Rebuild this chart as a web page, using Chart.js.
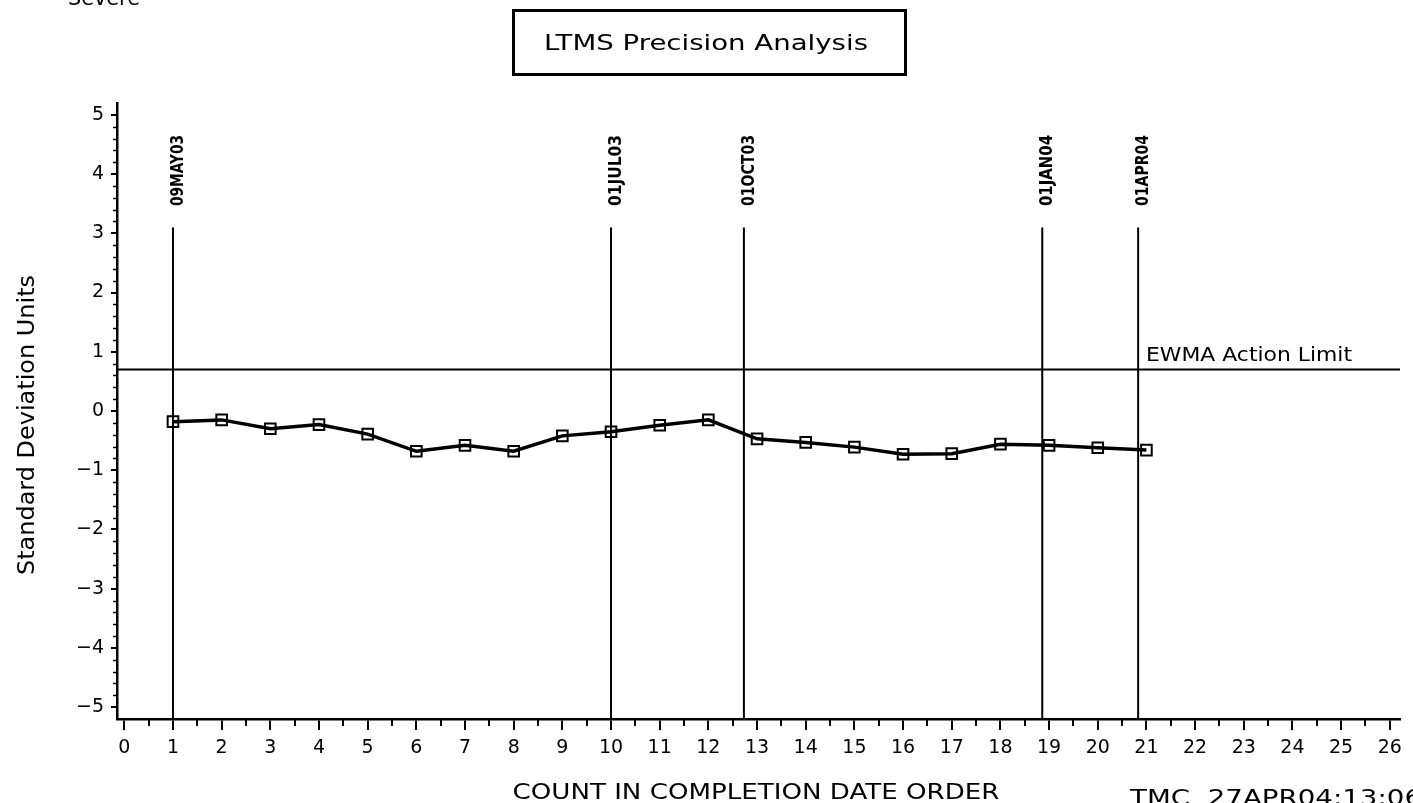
<!DOCTYPE html>
<html><head><meta charset="utf-8">
<script src="https://cdn.jsdelivr.net/npm/chart.js@4.4.1/dist/chart.umd.min.js"></script>
<style>html,body{margin:0;padding:0;background:#fff;} #wrap{width:1413px;height:803px;position:relative;}</style>
</head><body><div id="wrap"><canvas id="c" width="1413" height="803"></canvas></div>
<script>
// ---- data ----
const counts = [1,2,3,4,5,6,7,8,9,10,11,12,13,14,15,16,17,18,19,20,21];
const sdUnits = [-0.18,-0.15,-0.30,-0.23,-0.39,-0.68,-0.58,-0.68,-0.42,-0.35,-0.24,-0.15,-0.47,-0.53,-0.61,-0.73,-0.72,-0.56,-0.58,-0.62,-0.66];
const dateLabels = ['09MAY03','01JUL03','01OCT03','01JAN04','01APR04'];
const datePositions = [1, 10, 12.73, 18.86, 20.83];
const dateLineTop = 3.1;
const actionLimit = 0.7;
const actionLimitLabel = 'EWMA Action Limit';
const xTickValues = [0,1,2,3,4,5,6,7,8,9,10,11,12,13,14,15,16,17,18,19,20,21,22,23,24,25,26];
const yTickValues = [-5,-4,-3,-2,-1,0,1,2,3,4,5];
const xMin = -0.15, xMax = 26.21, yMin = -5.2, yMax = 5.2;
const titleText = 'LTMS Precision Analysis';
const xTitle = 'COUNT IN COMPLETION DATE ORDER';
const yTitle = 'Standard Deviation Units';
const cornerText = 'Severe';
const footText = 'TMC  27APR04:13:06';

const FAM = "'DejaVu Sans', 'Liberation Sans', sans-serif";

function fitText(ctx, text, x, y, w, align) {
  const m = ctx.measureText(text).width;
  const s = w / m;
  ctx.save();
  ctx.translate(x, y);
  ctx.scale(s, 1);
  ctx.textAlign = align;
  ctx.fillText(text, 0, 0);
  ctx.restore();
}

const decor = {
  id: 'decor',
  afterDraw(chart) {
    const ctx = chart.ctx;
    const xs = chart.scales.x, ys = chart.scales.y;
    const left = chart.chartArea.left, bottom = chart.chartArea.bottom;
    ctx.save();
    ctx.strokeStyle = '#000';
    ctx.fillStyle = '#000';
    // minor ticks y
    ctx.lineWidth = 1.5;
    ctx.beginPath();
    for (let k = -26; k <= 26; k++) {
      const v = k / 5;
      if (k % 5 === 0 || Math.abs(v) > 5.15) continue;
      const py = Math.round(ys.getPixelForValue(v)) + 0.5;
      ctx.moveTo(left, py); ctx.lineTo(left - 4, py);
    }
    ctx.stroke();
    // minor ticks x
    ctx.lineWidth = 2;
    ctx.beginPath();
    for (let k = 0; k < 26; k++) {
      const px = Math.round(xs.getPixelForValue(k + 0.5));
      ctx.moveTo(px, bottom); ctx.lineTo(px, bottom + 7);
    }
    ctx.stroke();
    // date labels
    ctx.textBaseline = 'middle';
    ctx.font = "bold 18px " + FAM;
    dateLabels.forEach((t, i) => {
      const px = xs.getPixelForValue(datePositions[i]);
      ctx.save();
      ctx.translate(px + 5, 206);
      ctx.rotate(-Math.PI / 2);
      fitText(ctx, t, 0, 0, 71, 'left');
      ctx.restore();
    });
    // action limit label
    ctx.textBaseline = 'alphabetic';
    ctx.font = "19px " + FAM;
    fitText(ctx, actionLimitLabel, 1146, ys.getPixelForValue(actionLimit) - 9, 206, 'left');
    // title box
    ctx.lineWidth = 3;
    ctx.strokeRect(513.5, 10.5, 392, 64);
    ctx.textBaseline = 'middle';
    ctx.font = "21px " + FAM;
    fitText(ctx, titleText, 706, 45, 324, 'center');
    // y title
    ctx.font = "23px " + FAM;
    ctx.save();
    ctx.translate(28, 425);
    ctx.rotate(-Math.PI / 2);
    fitText(ctx, yTitle, 0, 0, 300, 'center');
    ctx.restore();
    // x title
    ctx.textBaseline = 'alphabetic';
    ctx.font = "21px " + FAM;
    fitText(ctx, xTitle, 756, 799, 487, 'center');
    // footnote
    ctx.font = "21px " + FAM;
    fitText(ctx, footText, 1130, 805, 292, 'left');
    // corner
    ctx.font = "21px " + FAM;
    fitText(ctx, cornerText, 68, 5, 72, 'left');
    ctx.restore();
  }
};

const datasets = [{
  data: counts.map((c, i) => ({x: c, y: sdUnits[i]})),
  borderColor: '#000', borderWidth: 3.5, tension: 0,
  pointStyle: 'rect', pointRadius: 7.5, pointBorderWidth: 2,
  pointBorderColor: '#000', pointBackgroundColor: 'rgba(0,0,0,0)'
}];
datePositions.forEach(p => datasets.push({
  data: [{x: p, y: dateLineTop}, {x: p, y: yMin}],
  borderColor: '#000', borderWidth: 2, pointRadius: 0
}));
datasets.push({
  data: [{x: xMin, y: actionLimit}, {x: xMax, y: actionLimit}],
  borderColor: '#000', borderWidth: 2, pointRadius: 0
});

const fmt = v => v < 0 ? '\u2212' + Math.abs(v) : String(v);

new Chart(document.getElementById('c'), {
  type: 'line',
  data: { datasets },
  options: {
    responsive: false, animation: false, devicePixelRatio: 1,
    layout: { padding: { left: 0, top: 103, right: 13, bottom: 24 } },
    plugins: { legend: { display: false }, tooltip: { enabled: false } },
    scales: {
      x: {
        type: 'linear', min: xMin, max: xMax,
        afterBuildTicks: s => { s.ticks = xTickValues.map(v => ({value: v})); },
        afterFit: s => { s.height = 60; },
        ticks: { autoSkip: false, maxRotation: 0, color: '#000', padding: 7,
                 font: { family: FAM, size: 19 }, callback: fmt },
        grid: { drawOnChartArea: false, drawTicks: true, tickLength: 11, color: '#000', lineWidth: 2 },
        border: { display: true, color: '#000', width: 2.5 }
      },
      y: {
        type: 'linear', min: yMin, max: yMax,
        afterBuildTicks: s => { s.ticks = yTickValues.map(v => ({value: v})); },
        afterFit: s => { s.width = 117; },
        ticks: { autoSkip: false, color: '#000', padding: 7,
                 font: { family: FAM, size: 19 }, callback: fmt },
        grid: { drawOnChartArea: false, drawTicks: true, tickLength: 6, color: '#000', lineWidth: 2 },
        border: { display: true, color: '#000', width: 2.5 }
      }
    }
  },
  plugins: [decor]
});
</script></body></html>
